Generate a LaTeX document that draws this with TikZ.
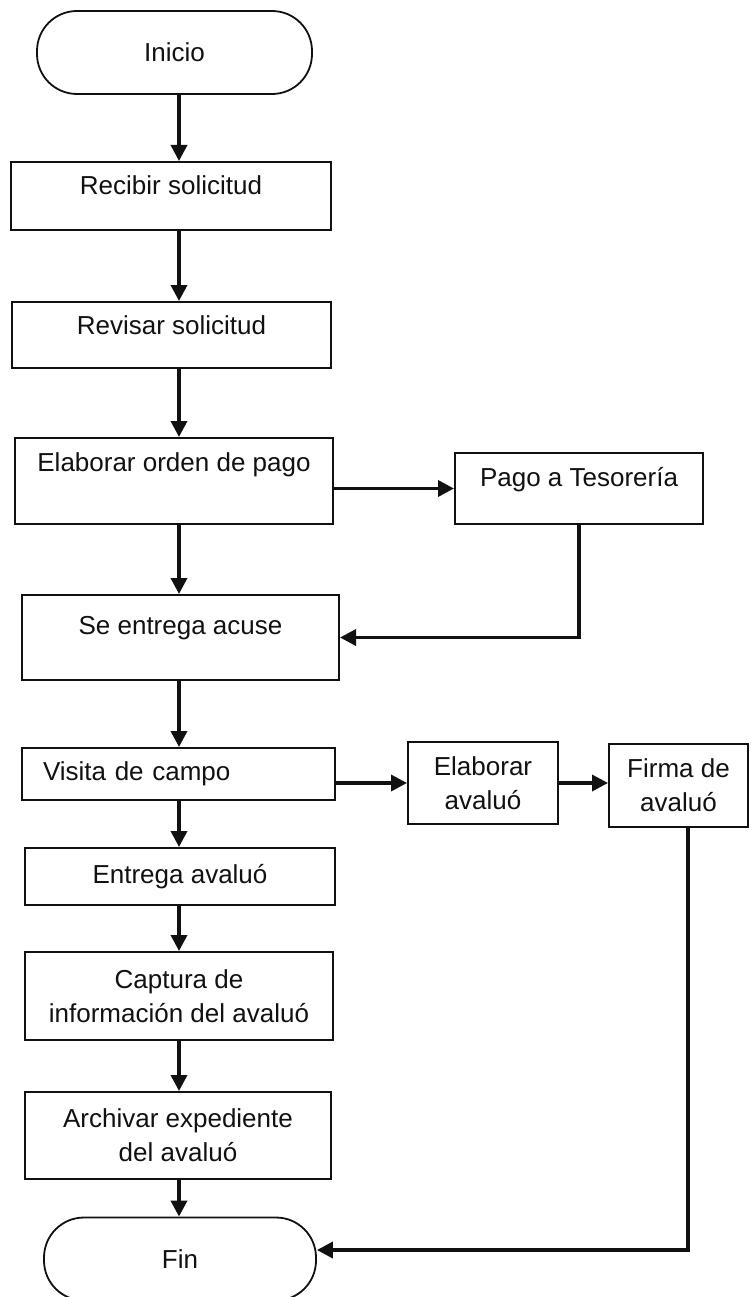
\documentclass[tikz,border=0pt]{standalone}
\usepackage{fontspec}
\setmainfont{Liberation Sans}
\usetikzlibrary{arrows.meta}
\definecolor{mInk}{HTML}{111111}

\begin{document}
\begin{tikzpicture}[x=1pt, y=-1pt,
    every node/.style={font=\fontsize{26}{34}\selectfont, text=mInk},
    box/.style 2 args={draw=mInk, line width=2pt, minimum width=#1, minimum height=#2, align=center},
    term/.style={draw=mInk, line width=1.8pt, rounded corners=40pt, minimum width=#1, minimum height=83pt},
    lift/.style={text height=19pt, text depth=#1},
    arr/.style={draw=mInk, line width=3.5pt, -{Triangle[length=16pt, width=16pt]}}]
    \useasboundingbox (0,0) rectangle (750,1297);
    % main column
    \node[term=275pt] (inicio) at (174.5,52.5) {Inicio};
    \node[box={320pt}{68pt}, lift=21.5pt] (recibir) at (171,196) {Recibir solicitud};
    \node[box={319pt}{66pt}, lift=19.5pt] (revisar) at (171.5,335) {Revisar solicitud};
    \node[box={318pt}{86pt}, lift=37.5pt] (orden) at (174,481) {Elaborar orden de pago};
    \node[box={317pt}{85pt}, lift=25.5pt] (acuse) at (180.5,637.5) {Se entrega acuse};
    \node[box={313pt}{52pt}, align=left, inner xsep=21pt, text width=271pt] (visita) at (178.5,774) {Visita de campo};
    \node[box={310pt}{57pt}] (entrega) at (180,876.5) {Entrega avalu\'o};
    \node[box={308pt}{88pt}] (captura) at (179,996) {Captura de\\informaci\'on del avalu\'o};
    \node[box={306pt}{87pt}] (archivar) at (178,1135.5) {Archivar expediente\\del avalu\'o};
    \node[term=272pt] (fin) at (180,1259) {Fin};
    % side boxes
    \node[box={248pt}{71pt}, lift=23.5pt] (pago) at (579,488.5) {Pago a Tesorer\'ia};
    \node[box={150pt}{82pt}] (elabav) at (483,783) {Elaborar\\avalu\'o};
    \node[box={139pt}{83pt}] (firma) at (678.5,785.5) {Firma de\\avalu\'o};

    \coordinate (spine) at (179,0);
    \coordinate (retorno) at (688,1250);

    % downward flow
    \draw[arr] (inicio.south -| spine) -- (recibir.north -| spine);
    \draw[arr] (recibir.south -| spine) -- (revisar.north -| spine);
    \draw[arr] (revisar.south -| spine) -- (orden.north -| spine);
    \draw[arr] (orden.south -| spine) -- (acuse.north -| spine);
    \draw[arr] (acuse.south -| spine) -- (visita.north -| spine);
    \draw[arr] (visita.south -| spine) -- (entrega.north -| spine);
    \draw[arr] (entrega.south -| spine) -- (captura.north -| spine);
    \draw[arr] (captura.south -| spine) -- (archivar.north -| spine);
    \draw[arr] (archivar.south -| spine) -- (fin.north -| spine);
    % branches
    \draw[arr] (pago.west -| orden.east) -- (pago.west);
    \draw[arr] (pago.south) |- (acuse.east);
    \draw[arr] (elabav.west -| visita.east) -- (elabav.west);
    \draw[arr] (elabav.east) -- (elabav.east -| firma.west);
    \draw[arr] (firma.south -| retorno) |- (fin.east |- retorno);
\end{tikzpicture}
\end{document}
